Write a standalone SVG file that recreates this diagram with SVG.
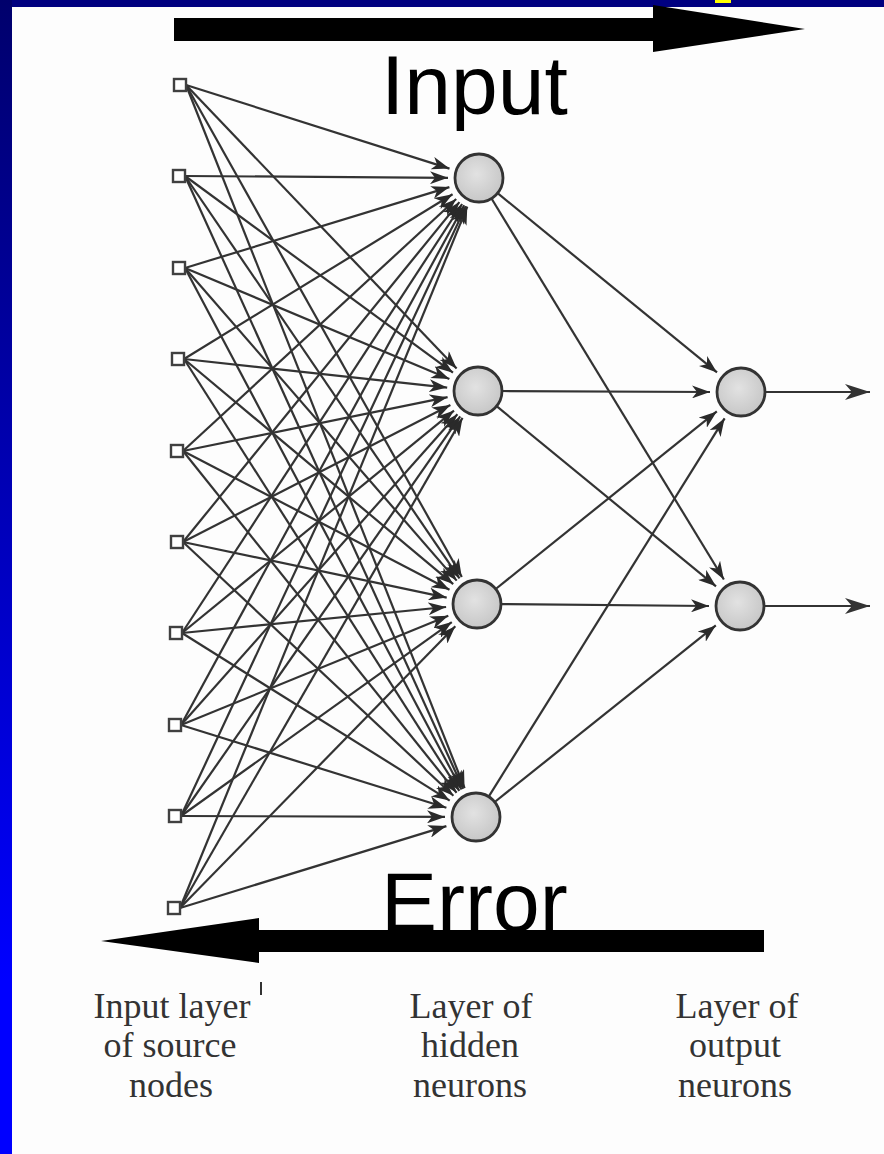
<svg xmlns="http://www.w3.org/2000/svg" width="884" height="1154" viewBox="0 0 884 1154">
<style>
.ln{stroke:#333;stroke-width:2.2;fill:none;marker-end:url(#ah)}
.out{stroke:#333;stroke-width:2.2;fill:none;marker-end:url(#ahb)}
.sq{fill:#fff;stroke:#404040;stroke-width:2.4}
.neu{fill:url(#ng);stroke:#333;stroke-width:2.8}
.big{font-family:"Liberation Sans",Arial,sans-serif;font-size:84px;fill:#000}
.lab{font-family:"Liberation Serif","Times New Roman",serif;font-size:36px;fill:#333;text-anchor:middle}
</style>
<defs>
<linearGradient id="side" x1="0" y1="0" x2="0" y2="1">
<stop offset="0" stop-color="#00006c"/>
<stop offset="0.85" stop-color="#0000ff"/>
<stop offset="1" stop-color="#0000ff"/>
</linearGradient>
<radialGradient id="ng" cx="0.45" cy="0.42" r="0.6">
<stop offset="0" stop-color="#e2e2e2"/>
<stop offset="1" stop-color="#c6c6c6"/>
</radialGradient>
<marker id="ah" markerUnits="userSpaceOnUse" markerWidth="19" markerHeight="13" refX="18" refY="6.5" orient="auto">
<path d="M0,0 L18,6.5 L0,13 L5,6.5 Z" fill="#2a2a2a"/>
</marker>
<marker id="ahb" markerUnits="userSpaceOnUse" markerWidth="26" markerHeight="16" refX="25" refY="8" orient="auto">
<path d="M0,0 L25,8 L0,16 L7,8 Z" fill="#333"/>
</marker>
</defs>
<rect x="0" y="0" width="884" height="1154" fill="#fdfdfd"/>
<rect x="0" y="0" width="884" height="7" fill="#000080"/>
<rect x="0" y="0" width="12" height="1154" fill="url(#side)"/>
<rect x="715" y="0" width="16" height="3" fill="#ffff00"/>

<g id="connectors">
<line class="ln" x1="186" y1="85" x2="449.5" y2="168.6"/>
<line class="ln" x1="185" y1="176" x2="448" y2="177.8"/>
<line class="ln" x1="185" y1="268" x2="449.4" y2="187.1"/>
<line class="ln" x1="184" y1="359" x2="452.6" y2="194.2"/>
<line class="ln" x1="183" y1="451" x2="456.2" y2="199"/>
<line class="ln" x1="183" y1="542" x2="459.4" y2="202.1"/>
<line class="ln" x1="182" y1="633" x2="462.1" y2="204"/>
<line class="ln" x1="181" y1="725" x2="464.2" y2="205.2"/>
<line class="ln" x1="181" y1="816" x2="465.9" y2="206.1"/>
<line class="ln" x1="180" y1="908" x2="467.3" y2="206.7"/>

<line class="ln" x1="186" y1="85" x2="456.6" y2="368.6"/>
<line class="ln" x1="185" y1="176" x2="453" y2="372.7"/>
<line class="ln" x1="185" y1="268" x2="449.4" y2="379"/>
<line class="ln" x1="184" y1="359" x2="447.2" y2="387.6"/>
<line class="ln" x1="183" y1="451" x2="447.6" y2="397.2"/>
<line class="ln" x1="183" y1="542" x2="450.4" y2="405.1"/>
<line class="ln" x1="182" y1="633" x2="454" y2="410.6"/>
<line class="ln" x1="181" y1="725" x2="457.4" y2="414.2"/>
<line class="ln" x1="181" y1="816" x2="460.2" y2="416.4"/>
<line class="ln" x1="180" y1="908" x2="462.5" y2="417.9"/>

<line class="ln" x1="186" y1="85" x2="461.8" y2="577"/>
<line class="ln" x1="185" y1="176" x2="459.5" y2="578.4"/>
<line class="ln" x1="185" y1="268" x2="456.7" y2="580.6"/>
<line class="ln" x1="184" y1="359" x2="453.2" y2="584.1"/>
<line class="ln" x1="183" y1="451" x2="449.5" y2="589.7"/>
<line class="ln" x1="183" y1="542" x2="446.7" y2="597.6"/>
<line class="ln" x1="182" y1="633" x2="446.1" y2="607"/>
<line class="ln" x1="181" y1="725" x2="448.3" y2="615.7"/>
<line class="ln" x1="181" y1="816" x2="451.8" y2="622.1"/>
<line class="ln" x1="180" y1="908" x2="455.3" y2="626.2"/>

<line class="ln" x1="186" y1="85" x2="464.6" y2="788.2"/>
<line class="ln" x1="185" y1="176" x2="463.2" y2="788.8"/>
<line class="ln" x1="185" y1="268" x2="461.5" y2="789.6"/>
<line class="ln" x1="184" y1="359" x2="459.3" y2="790.9"/>
<line class="ln" x1="183" y1="451" x2="456.6" y2="792.8"/>
<line class="ln" x1="183" y1="542" x2="453.4" y2="795.8"/>
<line class="ln" x1="182" y1="633" x2="449.7" y2="800.6"/>
<line class="ln" x1="181" y1="725" x2="446.4" y2="807.8"/>
<line class="ln" x1="181" y1="816" x2="445" y2="816.9"/>
<line class="ln" x1="180" y1="908" x2="446.4" y2="826.1"/>

<line class="ln" x1="497.6" y1="193.2" x2="717" y2="372.4"/>
<line class="ln" x1="491.5" y1="198.5" x2="723.9" y2="579.5"/>
<line class="ln" x1="502" y1="391" x2="710" y2="392"/>
<line class="ln" x1="496.6" y1="406.2" x2="716" y2="586.3"/>
<line class="ln" x1="495.7" y1="589" x2="716.8" y2="411.4"/>
<line class="ln" x1="501" y1="604.1" x2="709" y2="606"/>
<line class="ln" x1="488.7" y1="796.6" x2="724.6" y2="418.3"/>
<line class="ln" x1="494.7" y1="802" x2="715.8" y2="625.4"/>

<line class="out" x1="765" y1="392" x2="870" y2="392"/>
<line class="out" x1="764" y1="606" x2="870" y2="606"/>
</g>

<g id="input-nodes">
<rect id="in1" class="sq" x="174" y="79" width="12" height="12"/>
<rect id="in2" class="sq" x="173" y="170" width="12" height="12"/>
<rect id="in3" class="sq" x="173" y="262" width="12" height="12"/>
<rect id="in4" class="sq" x="172" y="353" width="12" height="12"/>
<rect id="in5" class="sq" x="171" y="445" width="12" height="12"/>
<rect id="in6" class="sq" x="171" y="536" width="12" height="12"/>
<rect id="in7" class="sq" x="170" y="627" width="12" height="12"/>
<rect id="in8" class="sq" x="169" y="719" width="12" height="12"/>
<rect id="in9" class="sq" x="169" y="810" width="12" height="12"/>
<rect id="in10" class="sq" x="168" y="902" width="12" height="12"/>
</g>
<g id="hidden-nodes">
<circle id="h1" class="neu" cx="479" cy="178" r="24"/>
<circle id="h2" class="neu" cx="478" cy="391" r="24"/>
<circle id="h3" class="neu" cx="477" cy="604" r="24"/>
<circle id="h4" class="neu" cx="476" cy="817" r="24"/>
</g>
<g id="output-nodes">
<circle id="o1" class="neu" cx="741" cy="392" r="24"/>
<circle id="o2" class="neu" cx="740" cy="606" r="24"/>
</g>

<g id="input-arrow">
<polygon points="174,18 653,18 653,5 805,29 653,52 653,41 174,41" fill="#000"/>
<text class="big" x="381" y="114">Input</text>
</g>
<g id="error-arrow">
<text class="big" x="381" y="931">Error</text>
<polygon points="764,930 259,930 259,918 101,941 259,963 259,952 764,952" fill="#000"/>
</g>

<g id="labels">
<text class="lab" x="172" y="1018">Input layer</text>
<line x1="261" y1="982" x2="261" y2="995" stroke="#333" stroke-width="2"/>
<text class="lab" x="170" y="1057">of source</text>
<text class="lab" x="171" y="1097">nodes</text>
<text class="lab" x="471" y="1018">Layer of</text>
<text class="lab" x="470" y="1057">hidden</text>
<text class="lab" x="470" y="1097">neurons</text>
<text class="lab" x="737" y="1018">Layer of</text>
<text class="lab" x="735" y="1057">output</text>
<text class="lab" x="735" y="1097">neurons</text>
</g>
</svg>
